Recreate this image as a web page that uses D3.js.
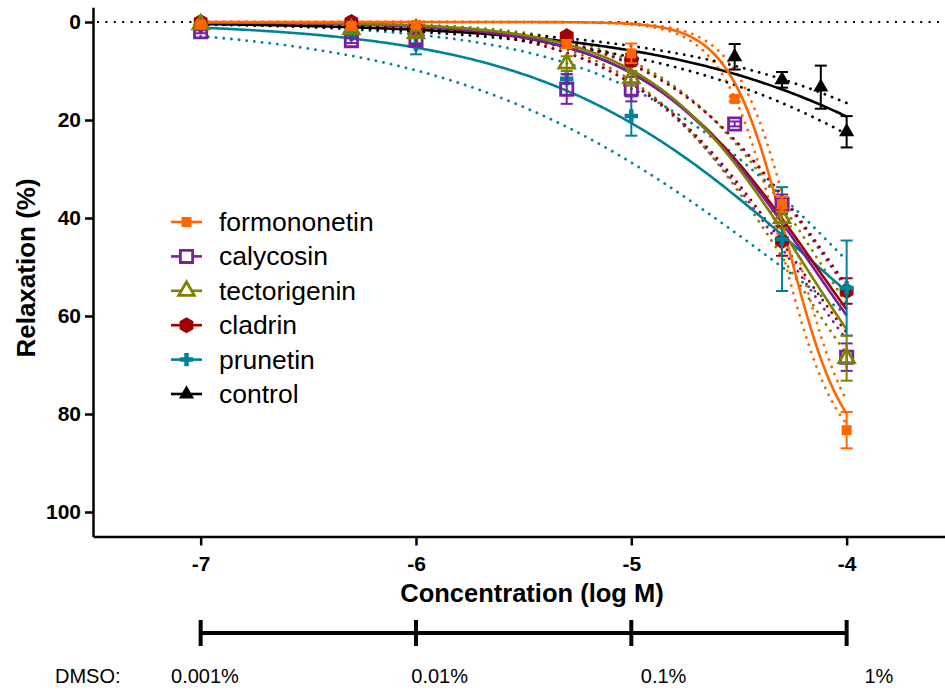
<!DOCTYPE html>
<html>
<head>
<meta charset="utf-8">
<script src="https://cdn.jsdelivr.net/npm/d3@7"></script>
<style>
  body { margin: 0; background: #fff; }
  svg { display: block; font-family: "Liberation Sans", Arial, sans-serif; }
</style>
</head>
<body>
<svg id="chart" width="945" height="690"></svg>
<script>
/* concentration-response, relaxation (%) vs log M */

const NAMES = ["formononetin", "calycosin", "tectorigenin", "cladrin", "prunetin", "control"];
const COLORS = ["#ff6600", "#7b1fa2", "#808000", "#a00000", "#00829b", "#000000"];
const MARKERS = ["square", "openSquare", "openTriangle", "hexagon", "cross", "triangle"];

// measured points (mean, error) per series
const X_FORM = [-7, -6.3, -6, -5.3, -5, -4.52, -4.3, -4];
const Y_FORM = [0.5, 0.8, 0.6, 4.5, 6.4, 15.7, 37.2, 83.3];
const E_FORM = [0.4, 0.4, 0.4, 0.8, 2.0, 0.5, 1.5, 3.7];

const X_CALY = [-7, -6.3, -6, -5.3, -5, -4.52, -4.3, -4];
const Y_CALY = [2.0, 3.8, 3.7, 13.7, 13.7, 20.8, 37.2, 68.4];
const E_CALY = [0.3, 0.5, 0.8, 3.0, 2.5, 0.5, 2.0, 2.8];

const X_TECT = [-7, -6.3, -6, -5.3, -5, -4.3, -4];
const Y_TECT = [0.5, 1.5, 2.3, 8.5, 11.5, 40.0, 68.6];
const E_TECT = [0.3, 0.3, 0.5, 1.5, 1.5, 2.0, 4.6];

const X_CLAD = [-7, -6.3, -6, -5.3, -5, -4.3, -4];
const Y_CLAD = [0.0, 0.0, 1.5, 2.9, 7.9, 44.7, 54.9];
const E_CLAD = [0.3, 0.3, 0.3, 0.5, 1.0, 3.0, 2.6];

const X_PRUN = [-7, -6.3, -6, -5.3, -5, -4.3, -4];
const Y_PRUN = [1.0, 2.5, 4.6, 11.6, 19.2, 44.3, 54.3];
const E_PRUN = [0.3, 0.4, 2.0, 1.0, 4.0, 10.6, 9.7];

const X_CTRL = [-7, -6.3, -6, -5.3, -5, -4.52, -4.3, -4.12, -4];
const Y_CTRL = [0.3, 0.5, 1.0, 3.0, 7.0, 7.1, 11.8, 13.3, 22.4];
const E_CTRL = [0.2, 0.2, 0.3, 0.5, 0.5, 2.6, 1.6, 4.4, 3.2];

// fitted sigmoid parameters (top, logEC50, hill) and dotted band curves
const FIT_TOP = [90, 100, 100, 100, 100, 100];
const FIT_EC50 = [-4.276, -4.157, -4.19, -4.14, -4.13, -2.94];
const FIT_HILL = [3.26, 1.107, 1.19, 1.086, 0.673, 0.586];
const BAND_A_EC50 = [-4.24, -4.07, -4.11, -4.06, -3.97, -2.8];
const BAND_A_HILL = [3.26, 1.107, 1.19, 1.086, 0.78, 0.586];
const BAND_B_EC50 = [-4.31, -4.24, -4.27, -4.22, -4.3, -3.1];
const BAND_B_HILL = [3.26, 1.107, 1.19, 1.086, 0.565, 0.586];

const X_TICKS = [-7, -6, -5, -4];
const Y_TICKS = [0, 20, 40, 60, 80, 100];
const DMSO_LABELS = ["0.001%", "0.01%", "0.1%", "1%"];
const DMSO_AT = [-6.98, -5.89, -4.85, -3.85];

const X_ALL = [X_FORM, X_CALY, X_TECT, X_CLAD, X_PRUN, X_CTRL];
const Y_ALL = [Y_FORM, Y_CALY, Y_TECT, Y_CLAD, Y_PRUN, Y_CTRL];
const E_ALL = [E_FORM, E_CALY, E_TECT, E_CLAD, E_PRUN, E_CTRL];

const svg = d3.select("#chart");
const x = d3.scaleLinear().domain([-7.5, -3.5]).range([93, 954.3]);
const y = d3.scaleLinear().domain([-3, 105]).range([7.3, 536.5]);

function hill(top, ec50, h) {
  return (v) => top / (1 + Math.pow(10, (ec50 - v) * h));
}
const curveX = d3.range(0, 301).map((i) => -7 + i * 0.01);
const line = d3.line().x((d) => x(d[0])).y((d) => y(d[1]));

function markerPath(kind) {
  if (kind === "square") return d3.symbol(d3.symbolSquare, 100)();
  if (kind === "openSquare") return d3.symbol(d3.symbolSquare, 150)();
  if (kind === "openTriangle") return d3.symbol(d3.symbolTriangle, 105)();
  if (kind === "triangle") return d3.symbol(d3.symbolTriangle, 100)();
  if (kind === "cross") return d3.symbol(d3.symbolCross, 100)();
  // hexagon
  const r = 8;
  const pts = d3.range(6).map((i) => {
    const a = Math.PI / 6 + (i * Math.PI) / 3;
    return [r * Math.cos(a), r * Math.sin(a)];
  });
  return "M" + pts.map((p) => p.join(",")).join("L") + "Z";
}
function styleMarker(sel, i) {
  const open = MARKERS[i].startsWith("open");
  sel.attr("fill", open ? "#fff" : COLORS[i])
    .attr("fill-opacity", open ? 0 : 1)
    .attr("stroke", open ? COLORS[i] : "none")
    .attr("stroke-width", open ? 2.8 : 0);
}

/* ---------- axes ---------- */
const yAxis = d3.axisLeft(y).tickValues(Y_TICKS).tickSize(8).tickSizeOuter(0).tickPadding(4);
const gy = svg.append("g").attr("transform", `translate(${x(-7.5)},0)`).call(yAxis);
const xAxis = d3.axisBottom(x).tickValues(X_TICKS).tickSize(9).tickSizeOuter(0).tickPadding(11)
  .tickFormat(d3.format("d"));
const gx = svg.append("g").attr("transform", `translate(0,${y(105)})`).call(xAxis);
[gx, gy].forEach((g) => {
  g.selectAll("path, line").attr("stroke", "#000").attr("stroke-width", 2.5);
  g.selectAll("text").attr("fill", "#000").attr("font-size", 21).attr("font-weight", "bold")
    .style("font-family", '"Liberation Sans", Arial, sans-serif');
});
gx.selectAll("text").text((d) => "-" + Math.abs(d));

svg.append("text").attr("x", 532).attr("y", 602).attr("text-anchor", "middle")
  .attr("font-size", 25.5).attr("font-weight", "bold").text("Concentration (log M)");
svg.append("text").attr("transform", "translate(35,268) rotate(-90)").attr("text-anchor", "middle")
  .attr("font-size", 26).attr("font-weight", "bold").text("Relaxation (%)");

// zero reference line
svg.append("line").attr("x1", x(-7.5) + 4).attr("x2", 945).attr("y1", y(0)).attr("y2", y(0))
  .attr("stroke", "#000").attr("stroke-width", 2).attr("stroke-dasharray", "2,6.4");

/* ---------- fits ---------- */
const gFit = svg.append("g").attr("fill", "none");
for (let i = 0; i < NAMES.length; i++) {
  const fa = hill(FIT_TOP[i], BAND_A_EC50[i], BAND_A_HILL[i]);
  const fb = hill(FIT_TOP[i], BAND_B_EC50[i], BAND_B_HILL[i]);
  [fa, fb].forEach((f) => {
    gFit.append("path").attr("d", line(curveX.map((v) => [v, f(v)])))
      .attr("stroke", COLORS[i]).attr("stroke-width", 2.8)
      .attr("stroke-linecap", "round").attr("stroke-dasharray", "0.1,7.6");
  });
}
const fitOrder = [5, 4, 3, 1, 2, 0];
fitOrder.forEach((i) => {
  const f = hill(FIT_TOP[i], FIT_EC50[i], FIT_HILL[i]);
  gFit.append("path").attr("d", line(curveX.map((v) => [v, f(v)])))
    .attr("stroke", COLORS[i]).attr("stroke-width", 2.6);
});

/* ---------- points ---------- */
const drawOrder = [5, 3, 4, 1, 2, 0];
drawOrder.forEach((i) => {
  const pts = X_ALL[i].map((v, k) => ({ v, m: Y_ALL[i][k], e: E_ALL[i][k] }));
  const g = svg.append("g");
  const eb = g.selectAll("g.eb").data(pts).join("g").attr("stroke", COLORS[i]).attr("stroke-width", 2);
  eb.append("line").attr("x1", (d) => x(d.v)).attr("x2", (d) => x(d.v))
    .attr("y1", (d) => y(d.m - d.e)).attr("y2", (d) => y(d.m + d.e));
  eb.append("line").attr("x1", (d) => x(d.v) - 6).attr("x2", (d) => x(d.v) + 6)
    .attr("y1", (d) => y(d.m - d.e)).attr("y2", (d) => y(d.m - d.e));
  eb.append("line").attr("x1", (d) => x(d.v) - 6).attr("x2", (d) => x(d.v) + 6)
    .attr("y1", (d) => y(d.m + d.e)).attr("y2", (d) => y(d.m + d.e));
  g.selectAll("path.mk").data(pts).join("path").attr("class", "mk")
    .attr("d", markerPath(MARKERS[i]))
    .attr("transform", (d) => `translate(${x(d.v)},${y(d.m)})`)
    .call(styleMarker, i);
});

/* ---------- legend ---------- */
const legend = svg.append("g").attr("transform", "translate(171,222)");
NAMES.forEach((name, i) => {
  const row = legend.append("g").attr("transform", `translate(0,${i * 34.4})`);
  row.append("line").attr("x1", 0).attr("x2", 31).attr("stroke", COLORS[i]).attr("stroke-width", 2.6);
  row.append("path").attr("d", markerPath(MARKERS[i])).attr("transform", "translate(15.5,0)")
    .call(styleMarker, i).attr("fill-opacity", 1);
  row.append("text").attr("x", 48).attr("y", 9).attr("font-size", 26.5).attr("fill", "#000").text(name);
});

/* ---------- DMSO scale ---------- */
const gD = svg.append("g").attr("stroke", "#000").attr("stroke-width", 4);
gD.append("line").attr("x1", x(X_TICKS[0])).attr("x2", x(X_TICKS[X_TICKS.length - 1]))
  .attr("y1", 633).attr("y2", 633);
gD.selectAll("line.tk").data(X_TICKS).join("line").attr("class", "tk")
  .attr("x1", (d) => x(d)).attr("x2", (d) => x(d)).attr("y1", 620).attr("y2", 646);

svg.append("text").attr("x", 55).attr("y", 683).attr("font-size", 20).text("DMSO:");
svg.selectAll("text.dmso").data(DMSO_LABELS).join("text").attr("class", "dmso")
  .attr("x", (d, k) => x(DMSO_AT[k])).attr("y", 683).attr("font-size", 20)
  .attr("text-anchor", "middle").text((d) => d);
</script>
</body>
</html>
